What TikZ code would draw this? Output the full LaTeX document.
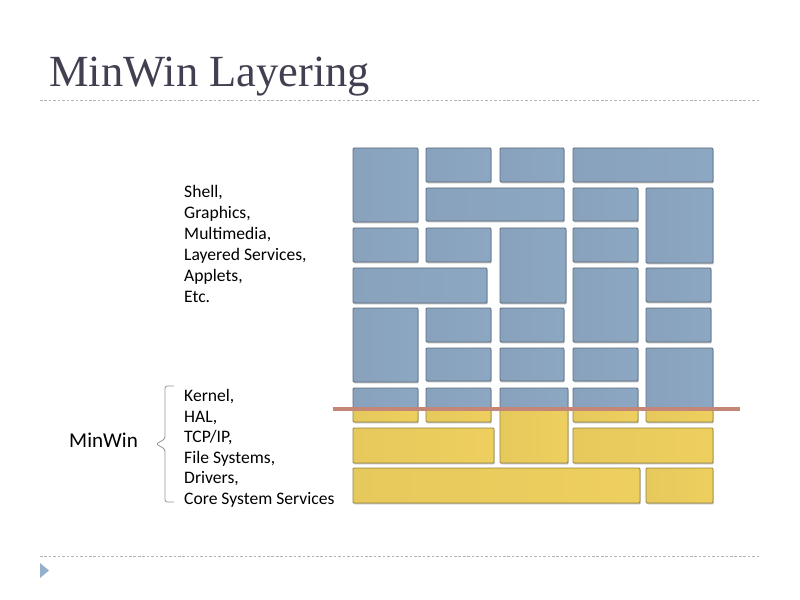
\documentclass[tikz,border=0pt]{standalone}
\usepackage{fontspec}
\setmainfont{Carlito}
\newfontfamily\titlefont{Liberation Serif}
\definecolor{tileblue}{RGB}{148,176,205}
\definecolor{tileyellow}{RGB}{250,218,100}
\definecolor{titlegray}{RGB}{64,64,80}
\definecolor{rulegray}{RGB}{178,178,184}
\definecolor{cutline}{RGB}{196,134,118}
\definecolor{bracegray}{RGB}{150,150,158}
\usetikzlibrary{shadows}
\tikzset{
tile/.style={rounded corners=0.8, line width=0.7pt,
  drop shadow={opacity=0.5, shadow xshift=0.6pt, shadow yshift=-1.1pt}}, % bevelled brick
bluetile/.style={tile, left color=tileblue!92!black, middle color=tileblue!88!white, right color=tileblue!95!black, draw=tileblue!62!black},
yellowtile/.style={tile, left color=tileyellow!92!black, middle color=tileyellow!90!white, right color=tileyellow!95!black, draw=tileyellow!60!black},
textblock/.style={align=left, inner sep=0pt}, % list of components
rule/.style={rulegray, line width=0.6pt, dash pattern=on 2.2pt off 1.6pt}
}
% bricks: left/top/right/bottom in pixels
\newcommand\tilelist{353/148/418/222, 426/148/491/182, 500/148/564/182, 573/148/713/182,
  426/188/564/221, 573/188/638/221, 646/188/713/263,
  353/228/418/262, 426/228/491/262, 500/228/566/303, 573/228/638/262,
  353/268/487/303, 573/268/638/342, 646/268/711/302,
  353/308/418/382, 426/308/491/342, 500/308/564/342, 646/308/711/342,
  426/348/491/381, 500/348/564/381, 573/348/638/381, 646/348/713/422,
  353/388/418/422, 426/388/491/422, 500/388/568/463, 573/388/638/422,
  353/428/494/463, 573/428/713/463,
  353/468/640/503, 646/468/713/503}

\begin{document}
\begin{tikzpicture}[x=0.3mm, y=-0.3mm]
      \useasboundingbox[fill=white] (0,0) rectangle (800,600);

      \node[anchor=base west, inner sep=0pt, text=titlegray, font=\titlefont\fontsize{38}{40}\selectfont] (title) at (49,87) {MinWin Layering};
      \draw[rule] (40,100.5) -- (759,100.5);
      \draw[rule] (40,556) -- (759,556);
      \fill[tileblue] (40,563) -- (49,570.5) -- (40,578) -- cycle;

      % upper part of the wall in blue, lower part in yellow
      \begin{scope}
        \clip (0,0) rectangle (800,409);
        \foreach \xa/\ya/\xb/\yb in \tilelist
          \shade[bluetile] (\xa,\ya) rectangle (\xb,\yb);
      \end{scope}
      \begin{scope}
        \clip (0,409) rectangle (800,600);
        \foreach \xa/\ya/\xb/\yb in \tilelist
          \shade[yellowtile] (\xa,\ya) rectangle (\xb,\yb);
      \end{scope}
      \draw[cutline, line width=2.6pt] (333,409) -- (740,409);

      \node[textblock, anchor=north west, font=\fontsize{15}{17.9}\selectfont] (upper) at (184,185.5) {Shell,\\Graphics,\\Multimedia,\\Layered Services,\\Applets,\\Etc.};
      \node[textblock, anchor=north west, font=\fontsize{15}{17.6}\selectfont] (lower) at (184,389) {Kernel,\\HAL,\\TCP/IP,\\File Systems,\\Drivers,\\Core System Services};
      \node[anchor=base west, inner sep=0pt, font=\fontsize{18}{20}\selectfont] (minwin) at (69,447) {MinWin};
      \draw[bracegray, line width=0.7pt, rounded corners=2pt] (174,386) -- (165,386) -- (165,439) -- (156,444) -- (165,449) -- (165,502) -- (174,502);
    \end{tikzpicture}
\end{document}
